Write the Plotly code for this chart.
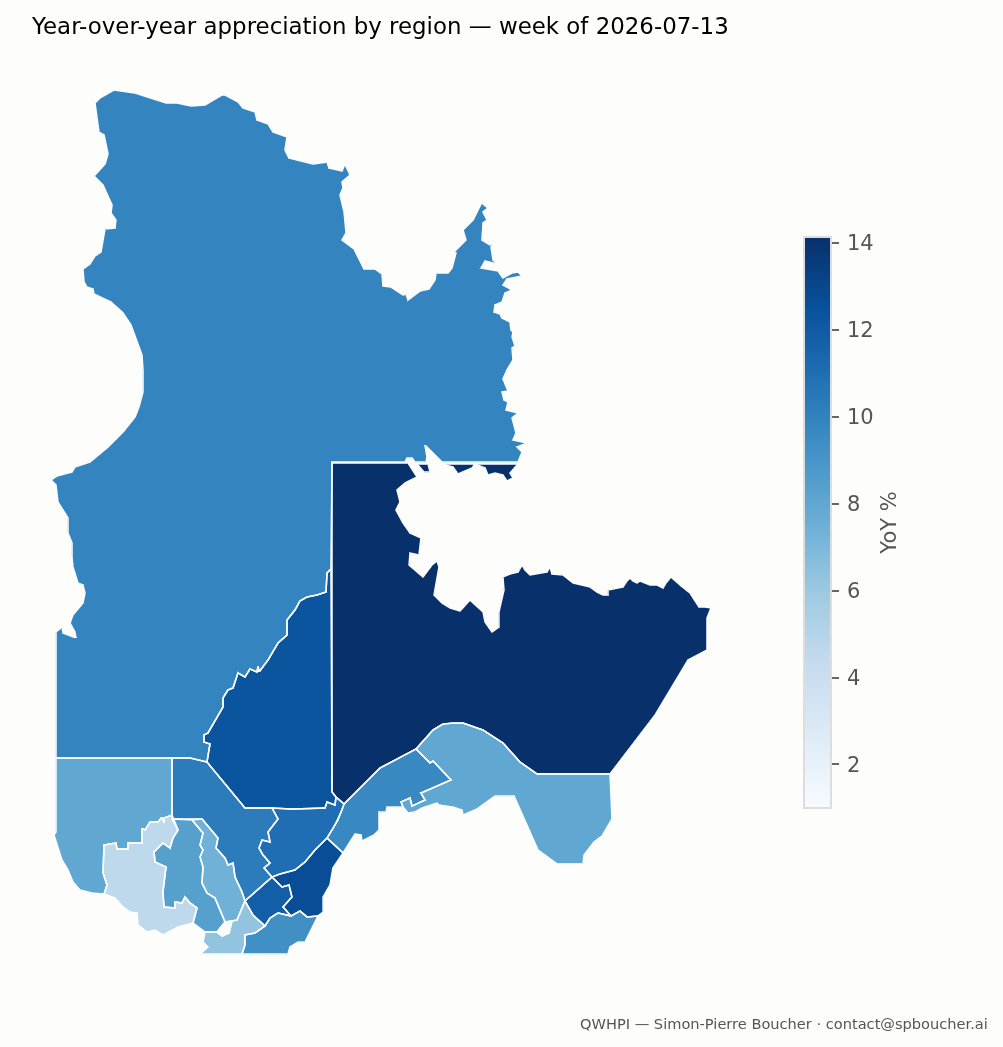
import math
import plotly.graph_objects as go

regions = ["Nord-du-Québec", "Côte-Nord", "Saguenay–Lac-Saint-Jean", "Mauricie", "Capitale-Nationale",
	"Bas-Saint-Laurent", "Gaspésie", "Chaudière-Appalaches", "Centre-du-Québec", "Estrie", "Montérégie",
	"Montréal", "Laurentides", "Lanaudière", "Outaouais", "Abitibi-Témiscamingue"]
yoy = [9.9, 14.14, 12.3, 10.3, 11.0, 9.7, 8.0, 12.7, 11.8, 9.3, 6.3, 1.0, 8.4, 7.4, 4.6, 8.0]

# region outlines, in grid units (east, south from the sheet corner)
nord = [(114,90),(135,93),(166,103),(177,103),(191,106),(205,105),(210,102),(216,99),(222,95),(225,95),(238,102),(243,108),
	(255,112),(257,120),(268,124),(273,132),(287,137),(285,150),(289,158),(305,162),(313,164),(327,162),(329,168),(342,171),
	(345,164),(350,175),(342,182),(343,188),(340,195),(344,212),(345,222),(346,233),(342,240),(354,249),(364,269),(375,269),
	(382,274),(383,286),(391,287),(403,295),(406,294),(408,300),(420,291),(429,289),(435,280),(436,273),(448,273),(452,268),
	(456,253),(454,252),(466,240),(463,230),(473,220),(481,204),(487,200),(483,204),(488,208),(483,212),(487,220),(483,223),
	(482,240),(490,245),(495,241),(491,247),(493,260),(497,264),(485,261),(481,268),(498,271),(503,278),(512,273),(518,272),
	(522,276),(507,279),(503,285),(512,290),(505,293),(502,302),(495,305),(494,312),(500,314),(502,318),(510,322),(511,330),
	(513,332),(512,337),(515,346),(512,348),(513,360),(507,370),(503,379),(508,391),(502,392),(504,400),(508,402),(506,410),
	(518,413),(512,418),(516,433),(513,440),(527,443),(517,447),(522,452),(518,462),(442,462),(432,452),(425,445),(427,457),
	(426,462),(415,462),(412,458),(407,458),(405,462),(332,462),(331,569),(327,573),(326,583),(326,592),(317,595),(307,597),
	(300,601),(295,610),(287,620),(287,635),(278,643),(268,660),(259,672),(258,666),(257,672),(250,669),(245,677),(238,673),
	(233,688),(228,690),(223,698),(223,707),(214,722),(208,733),(204,735),(204,742),(210,744),(207,762),(198,760),(190,758),
	(56,758),(56,632),(62,627),(63,633),(76,638),(75,632),(70,623),(73,615),(83,603),(85,593),(83,585),(78,583),(73,567),
	(72,557),(72,543),(68,533),(68,518),(58,502),(56,485),(51,480),(57,476),(72,472),(75,467),(90,462),(108,447),(123,432),
	(135,417),(139,407),(143,392),(143,370),(142,355),(138,343),(131,325),(123,313),(111,302),(94,294),(93,289),(87,287),
	(84,282),(83,269),(90,264),(95,256),(101,252),(103,238),(105,229),(115,228),(116,220),(111,213),(112,205),(108,197),
	(103,185),(94,176),(105,164),(108,154),(104,135),(99,132),(95,103),(100,98)]
cote_nord = [(332,463),(408,463),(417,477),(405,483),(397,490),(400,502),(396,510),(403,523),(410,533),(421,538),(419,555),
	(410,553),(409,565),(423,577),(432,565),(437,561),(439,567),(437,580),(434,595),(442,603),(450,608),(460,611),(470,600),
	(483,612),(485,622),(492,632),(499,627),(499,612),(502,600),(504,590),(503,577),(510,574),(518,572),(522,565),(525,570),
	(530,575),(540,573),(547,572),(550,567),(552,574),(563,575),(570,580),(573,583),(580,585),(590,587),(597,592),(603,595),
	(608,595),(608,590),(618,588),(623,587),(627,581),(630,578),(633,581),(637,583),(640,581),(643,582),(650,585),(657,585),
	(663,588),(666,583),(671,577),(675,580),(680,585),(687,590),(690,593),(695,601),(699,607),(705,607),(711,608),(707,618),
	(707,650),(688,660),(655,715),(610,774),(537,774),(520,762),(503,743),(483,730),(463,723),(453,723),(443,724),(433,730),
	(416,749),(400,757),(380,768),(362,786),(344,804),(336,797),(332,792)]
cote_nord_b = [(442,464),(453,467),(458,474),(463,472),(472,468),(475,464),(485,468),(488,475),(495,473),(503,475),(507,481),
	(513,478),(510,473),(518,464)]
cote_nord_c = [(417,464),(424,472),(430,472),(428,464)]
saguenay = [(331,569),(327,573),(326,583),(326,592),(317,595),(307,597),(300,601),(295,610),(287,620),(287,635),(278,643),
	(268,660),(259,672),(258,666),(257,672),(250,669),(245,677),(238,673),(233,688),(228,690),(223,698),(223,707),(214,722),
	(208,733),(204,735),(204,742),(210,744),(207,762),(245,808),(272,808),(292,809),(325,808),(327,802),(335,805),(336,797),
	(332,792)]
mauricie = [(172,758),(190,758),(198,760),(207,762),(245,808),(272,808),(278,819),(268,832),(270,842),(262,840),(259,848),
	(263,855),(270,863),(264,868),(272,877),(245,901),(242,892),(235,877),(233,863),(228,865),(225,858),(216,848),(218,838),
	(202,819),(172,819)]
capitale = [(272,808),(292,809),(325,808),(327,802),(335,805),(336,797),(344,804),(338,820),(327,838),(315,850),(305,862),
	(295,870),(280,874),(272,877),(264,868),(270,863),(263,855),(259,848),(262,840),(270,842),(268,832),(278,819)]
bas_st_laurent = [(416,749),(427,760),(430,763),(433,761),(451,780),(421,793),(425,800),(412,806),(410,798),(401,802),(403,807),
	(387,807),(386,812),(379,812),(379,830),(374,835),(362,841),(361,835),(355,834),(343,853),(327,838),(335,825),(342,810),
	(344,804),(362,786),(380,768),(400,757)]
gaspesie = [(416,749),(433,730),(443,724),(453,723),(463,723),(483,730),(503,743),(520,762),(537,774),(610,774),(612,819),
	(602,836),(594,842),(584,855),(583,864),(557,864),(538,850),(514,796),(495,796),(477,809),(463,815),(462,810),(453,807),
	(439,805),(437,803),(422,808),(415,812),(408,813),(403,807),(401,802),(410,798),(412,806),(425,800),(421,793),(451,780),
	(433,761),(430,763),(427,760)]
chaudiere = [(327,838),(343,853),(333,868),(330,885),(323,897),(323,912),(318,916),(307,917),(300,911),(291,916),(283,907),
	(292,897),(289,885),(282,887),(272,877),(280,874),(295,870),(305,862),(315,850)]
centre = [(272,877),(282,887),(289,885),(292,897),(283,907),(291,916),(283,914),(278,913),(270,918),(265,926),(253,915),(245,901)]
estrie = [(265,926),(270,918),(278,913),(283,914),(291,916),(300,911),(307,917),(318,916),(310,932),(305,942),(298,942),(290,947),
	(288,954),(242,954),(245,945),(245,935),(255,933)]
monteregie = [(245,901),(253,915),(265,926),(255,933),(245,935),(245,945),(242,954),(200,954),(208,947),(203,942),(205,932),
	(217,932),(222,936),(229,933),(232,921),(237,920)]
montreal = [(217,932),(222,936),(229,933),(232,921),(225,922)]
laurentides = [(172,819),(192,820),(203,833),(200,845),(203,850),(200,857),(203,867),(202,883),(207,893),(215,898),(217,903),
	(225,922),(217,932),(205,932),(193,923),(197,908),(190,903),(185,897),(182,903),(175,902),(175,908),(164,907),(163,892),
	(166,867),(155,862),(154,852),(163,843),(170,848),(173,838),(178,830)]
lanaudiere = [(192,820),(202,819),(218,838),(216,848),(225,858),(228,865),(233,863),(235,877),(242,892),(245,901),(237,920),
	(232,921),(225,922),(217,903),(215,898),(207,893),(202,883),(203,867),(200,857),(203,850),(200,845),(203,833)]
outaouais = [(172,815),(178,830),(173,838),(170,848),(163,843),(154,852),(155,862),(166,867),(163,892),(164,907),(175,908),(175,902),
	(182,903),(185,897),(190,903),(197,908),(193,923),(178,927),(163,935),(155,930),(147,932),(138,925),(137,913),(130,912),
	(123,907),(115,898),(104,894),(107,885),(103,873),(104,845),(116,843),(117,849),(128,849),(128,843),(142,843),(142,828),
	(145,830),(150,822),(158,822),(162,817),(164,823),(164,818)]
abitibi = [(56,758),(172,758),(172,815),(164,818),(164,823),(162,817),(158,822),(150,822),(145,830),(142,828),(142,843),(128,843),
	(128,849),(117,849),(116,843),(104,845),(103,873),(107,885),(104,894),(92,893),(80,890),(73,882),(68,870),(62,860),(58,848),
	(54,835),(56,832)]

outlines = [[nord], [cote_nord, cote_nord_b, cote_nord_c], [saguenay], [mauricie], [capitale], [bas_st_laurent], [gaspesie],
	[chaudiere], [centre], [estrie], [monteregie], [montreal], [laurentides], [lanaudiere], [outaouais], [abitibi]]

# grid to lon/lat, the grid is a plain mercator sheet
GRID_DEG = 0.0343
LON_0 = -81.475
NORTHING_0 = 83.89

def to_lonlat(e, s):
	lon = LON_0 + e*GRID_DEG
	lat = math.degrees(2*math.atan(math.exp(math.radians(NORTHING_0 - s*GRID_DEG))) - math.pi/2)
	return [lon, lat]

def ring(points):
	coords = [to_lonlat(e, s) for e, s in points]
	coords.append(coords[0])
	return coords

features = []
for name, parts in zip(regions, outlines):
	features.append({
		"type": "Feature",
		"id": name,
		"properties": {"name": name},
		"geometry": {"type": "MultiPolygon", "coordinates": [[ring(p)] for p in parts]}
	})
geojson = {"type": "FeatureCollection", "features": features}

BG = "#fdfdfb"
TEXT = "#555555"

fig = go.Figure(go.Choroplethmap(
	geojson=geojson,
	locations=regions,
	z=yoy,
	featureidkey="id",
	colorscale="Blues",
	zmin=1.0,
	zmax=14.14,
	marker_line_color="white",
	marker_line_width=1.5,
	colorbar=dict(
		title=dict(text="YoY %", side="right", font=dict(size=21, color=TEXT, family="DejaVu Sans")),
		tickmode="linear",
		tick0=2,
		dtick=2,
		tickfont=dict(size=21, color=TEXT, family="DejaVu Sans"),
		tickprefix="\u2009",
		ticksuffix="\u2002\u2009",
		ticks="outside",
		ticklen=7,
		tickwidth=2,
		tickcolor="#666666",
		outlinecolor="#dddddd",
		outlinewidth=2,
		thickness=27,
		thicknessmode="pixels",
		len=571,
		lenmode="pixels",
		ypad=0,
		xpad=0,
		x=0.8016,
		xanchor="left",
		y=0.501,
		yanchor="middle",
	),
))

center = to_lonlat(501.5, 523.5)
fig.update_layout(
	map=dict(
		style={"version": 8, "sources": {}, "layers": [{"id": "bg", "type": "background", "paint": {"background-color": BG}}]},
		center=dict(lon=center[0], lat=center[1]),
		zoom=math.log2(360/(512*GRID_DEG)),
	),
	width=1003,
	height=1047,
	margin=dict(l=0, r=0, t=0, b=0),
	paper_bgcolor=BG,
	font=dict(family="DejaVu Sans"),
	title=dict(text="Year-over-year appreciation by region — week of 2026-07-13", x=0.032, xanchor="left", y=0.975, yanchor="middle",
		font=dict(size=22.9, color="black", family="DejaVu Sans")),
	annotations=[dict(text="QWHPI — Simon-Pierre Boucher · contact@spboucher.ai", x=0.987, y=0.022, xref="paper", yref="paper",
		xanchor="right", yanchor="middle", showarrow=False, font=dict(size=14.6, color=TEXT, family="DejaVu Sans"))],
)

# drop the default page margin so the figure fills the window
fig.write_html("out.html", config={"displayModeBar": False},
	post_script="document.body.style.margin='0';document.body.style.background='" + BG + "';")
